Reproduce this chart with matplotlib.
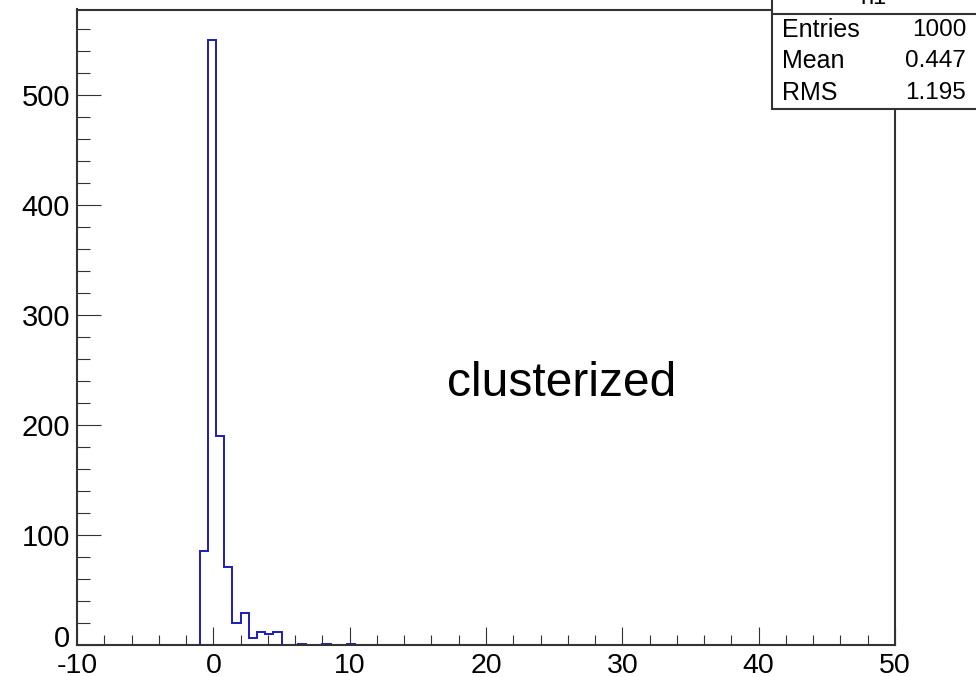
import numpy as np
import matplotlib
matplotlib.use("Agg")
import matplotlib.pyplot as plt
from matplotlib.ticker import MultipleLocator

# ---- data ----
x_min, x_max, n_bins = -10.0, 50.0, 100
bin_lows = [-1.0, -0.4, 0.2, 0.8, 1.4, 2.0, 2.6, 3.2, 3.8, 4.4, 6.2, 8.0, 9.8]
counts = [85, 550, 190, 71, 20, 29, 6, 12, 10, 12, 1, 1, 1]
x_ticks = [-10, 0, 10, 20, 30, 40, 50]
y_ticks = [0, 100, 200, 300, 400, 500]
stats_labels = ["Entries", "Mean", "RMS"]
stats_values = ["1000", "0.447", "1.195"]
hist_name = "h1"
annotation = "clusterized"

plt.rcParams['font.family'] = ['Liberation Sans', 'DejaVu Sans']

W, H = 976, 677
fig = plt.figure(figsize=(W / 100, H / 100), dpi=100)
fig.patch.set_facecolor("white")

L, R, T, B = 77, 895, 9.5, 645
ax = fig.add_axes([L / W, 1 - B / H, (R - L) / W, (B - T) / H])

edges = np.linspace(x_min, x_max, n_bins + 1)
width = (x_max - x_min) / n_bins
centers = np.array(bin_lows) + width / 2
ax.hist(centers, bins=edges, weights=counts, histtype="step",
        color="#1c1cc0", linewidth=1.4)

ax.set_xlim(x_min, x_max)
ax.set_ylim(0, 577.5)

frame_c = "#333333"
for s in ax.spines.values():
    s.set_color(frame_c)
    s.set_linewidth(1.5)

ax.set_xticks(x_ticks)
ax.set_yticks(y_ticks)
ax.xaxis.set_minor_locator(MultipleLocator(2))
ax.yaxis.set_minor_locator(MultipleLocator(20))
ax.tick_params(axis="x", which="major", direction="in", length=13, width=0.8,
               color=frame_c, labelsize=20.5, pad=5.5, top=False)
ax.tick_params(axis="x", which="minor", direction="in", length=7, width=0.8,
               color=frame_c, top=False)
ax.tick_params(axis="y", which="major", direction="in", length=17.5, width=0.8,
               color=frame_c, labelsize=21, pad=5, right=False)
ax.tick_params(axis="y", which="minor", direction="in", length=9.4, width=0.8,
               color=frame_c, right=False)
ax.set_xticklabels([str(v) for v in x_ticks])
ax.set_yticklabels([str(v) for v in y_ticks])
# lift the "0" y label slightly, as in the reference
ylabs = ax.get_yticklabels()
ylabs[0].set_verticalalignment("bottom")
ylabs[0].set_y(0)
import matplotlib.transforms as mtransforms
ylabs[0].set_transform(ylabs[0].get_transform() +
                       mtransforms.ScaledTranslation(0, -8 / 100, fig.dpi_scale_trans))

# annotation
ax.text((562 - L) / (R - L), (B - 384) / (B - T), annotation,
        transform=ax.transAxes, fontsize=34.5, ha="center", va="center",
        color="black")

# stats box
bx0, bx1, by0, by1 = 771.5, 985, -30, 108.5
box = plt.Rectangle((bx0 / W, 1 - by1 / H), (bx1 - bx0) / W, (by1 - by0) / H,
                    transform=fig.transFigure, facecolor="white",
                    edgecolor=frame_c, linewidth=1.5, zorder=5, clip_on=False)
fig.add_artist(box)
fig.add_artist(plt.Line2D([bx0 / W, bx1 / W], [1 - 14 / H, 1 - 14 / H],
                          transform=fig.transFigure, color=frame_c,
                          linewidth=1.5, zorder=6))
fig.text(873 / W, 1 - 4 / H, hist_name, fontsize=17, ha="center",
         va="baseline", zorder=7)
row_y = [30, 61, 93]
for lab, val, yy in zip(stats_labels, stats_values, row_y):
    fig.text(782 / W, 1 - yy / H, lab, fontsize=18, ha="left",
             va="center", zorder=7)
    fig.text(966 / W, 1 - yy / H, val, fontsize=17.5, ha="right",
             va="center", zorder=7)

fig.savefig("out.png", dpi=100, facecolor="white")
